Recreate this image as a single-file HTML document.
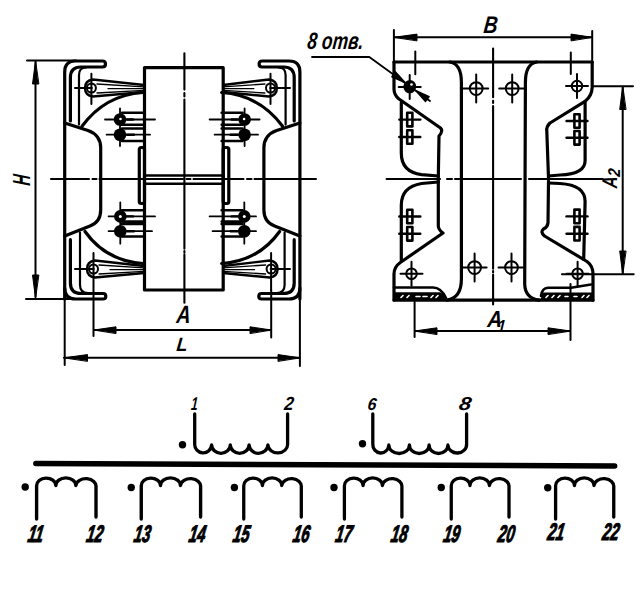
<!DOCTYPE html>
<html><head><meta charset="utf-8">
<style>
html,body{margin:0;padding:0;background:#fff;}
svg{display:block;}
text{font-family:"Liberation Sans",sans-serif;font-style:italic;fill:#000;stroke:none;}
.s text{stroke:#000;stroke-width:0.7;}
.b text,text.b{font-weight:bold;}
</style></head>
<body>
<svg width="640" height="590" viewBox="0 0 640 590">
<rect width="640" height="590" fill="#fff"/>
<g fill="none" stroke="#000" stroke-width="3.2" stroke-linecap="round" stroke-linejoin="round">

<!-- ============ LEFT DRAWING ============ -->
<!-- H dimension -->
<g stroke-width="2">
<path d="M27 60.5 H76 M26 299 H76 M35.5 62 V297"/>
</g>
<path d="M35.5 61 L32.5 84 L38.5 84 Z M35.5 298 L32.5 275 L38.5 275 Z" fill="#000" stroke-width="1"/>
<text class="b" x="0" y="0" font-size="20" transform="translate(30,186) rotate(-90) scale(0.75,1.24) skewX(-8)">H</text>

<!-- center lines -->
<path d="M51 179 H89 M92.5 179 H96.5 M99.5 179 H183 M186.5 179 H190.5 M193.5 179 H243.5 M247 179 H251.5 M254.5 179 H316" stroke-width="2.1"/>
<path d="M184.4 53.3 V89.6 M184.4 93 V96.5 M184.4 99.5 V248.8 M184.4 251 V252.5 M184.4 254.3 V302.7" stroke-width="2.1"/>

<!-- core -->
<rect x="144.5" y="67.7" width="78.7" height="222.3" stroke-width="3.2"/>
<path d="M144.5 175.4 H223.2 M144.5 183.8 H223.2" stroke-width="2.5"/>
<rect x="139.3" y="147.5" width="5.2" height="56" rx="2"/>
<rect x="223.2" y="147.5" width="5.6" height="56" rx="2"/>

<!-- left half (mirrored for right) -->
<g id="lh">
 <!-- bracket top -->
 <path d="M64.7 299 V72 Q64.7 61 75.5 61 H102.5 Q105.5 61 105.5 64 Q105.5 67 102.5 67 H81 Q70.4 67 70.4 77.5 V121"/>
 <path d="M79 124.6 V75 Q79 67.5 86 67.5" stroke-width="2.2"/>
 <!-- bracket bottom -->
 <path d="M64.7 288 Q64.7 299 75.5 299 H103 Q105.8 299 105.8 296.2 Q105.8 293.5 103 293.5 H81 Q70.4 293.5 70.4 283 V239.7"/>
 <path d="M80 232.5 V285 Q80 293 88 293" stroke-width="2.2"/>
 <!-- bobbin profile -->
 <path d="M64.7 123 L88 130.5 Q100.7 135 100.7 148 V210 Q100.7 222 90 226 L64.7 236"/>
 <!-- coil arcs -->
 <path d="M82 126.3 Q105 95 143 92.5"/>
 <path d="M85 231.5 Q106 261 143 263.5"/>
 <!-- lugs top -->
 <g stroke-width="2.4">
  <path d="M122 112.8 H143 M122 124.8 H143 M122 128.5 H143 M122 141 H143 M127 119.5 H133 M127 134.7 H134" />
  <path d="M105 119.5 H155 M106.6 134.7 H150 M120 108.5 V146" stroke-width="1.8"/>
 </g>
 <circle cx="120" cy="119.5" r="6.3" fill="#000" stroke="none"/>
 <circle cx="120.5" cy="119" r="1.3" fill="#fff" stroke="none"/>
 <circle cx="120" cy="134.7" r="6.3" fill="#000" stroke="none"/>
 <!-- lugs bottom -->
 <g stroke-width="2.4">
  <path d="M122 210.2 H143 M122 221.5 H143 M122 224 H143 M122 236.5 H143 M127 216.4 H133 M127 231.2 H134"/>
  <path d="M108.6 216.4 H155 M108.6 231.2 H152 M120.3 202.3 V243.7" stroke-width="1.8"/>
 </g>
 <circle cx="120.3" cy="216.4" r="6.3" fill="#000" stroke="none"/>
 <circle cx="120.3" cy="216.4" r="1.5" fill="#fff" stroke="none"/>
 <circle cx="120.3" cy="231.2" r="6.3" fill="#000" stroke="none"/>
</g>
<use href="#lh" transform="translate(364.6,0) scale(-1,1)"/>
<!-- lead bundles -->
<g stroke-width="2.4">
 <path d="M144 85 L93 79.5 Q85 80.5 85 88 Q85 95.5 93 96.5 L144 92"/>
 <path d="M144 86.8 L97 84 M144 90.3 L97 93 M144 88.6 L108 88.6" stroke-width="1.3"/>
 <circle cx="91.4" cy="88" r="4.5" stroke-width="2"/>
 <path d="M91.4 73.7 V104 M75 88 H92" stroke-width="2"/>

 <path d="M223.2 85 L268.9 79.5 Q276.9 80.5 276.9 88 Q276.9 95.5 268.9 96.5 L223.2 92"/>
 <path d="M223.2 86.8 L264.9 84 M223.2 90.3 L264.9 93 M223.2 88.6 L253.9 88.6" stroke-width="1.3"/>
 <circle cx="270.5" cy="88" r="4.5" stroke-width="2"/>
 <path d="M270.5 73.7 V104 M290 88 H270" stroke-width="2"/>

 <path d="M144 266 L95 260.5 Q87 261.5 87 269 Q87 276.5 95 277.5 L144 273"/>
 <path d="M144 267.8 L99 265 M144 271.3 L99 274 M144 269.6 L110 269.6" stroke-width="1.3"/>
 <circle cx="93.5" cy="269" r="4.5" stroke-width="2"/>
 <path d="M93.5 253 V336 M75 269 H94" stroke-width="2"/>

 <path d="M223.2 266 L269.6 260.5 Q277.6 261.5 277.6 269 Q277.6 276.5 269.6 277.5 L223.2 273"/>
 <path d="M223.2 267.8 L265.6 265 M223.2 271.3 L265.6 274 M223.2 269.6 L254.6 269.6" stroke-width="1.3"/>
 <circle cx="271.1" cy="269" r="4.5" stroke-width="2"/>
 <path d="M271.1 253 V290 M290 269 H270.6" stroke-width="2"/>
</g>

<!-- A, L dimensions -->
<g stroke-width="2">
 <path d="M93.8 330 H271.2 M64 357.8 H300 M299.9 298 V366 M64.7 298 V365 M271.2 290 V337.5"/>
</g>
<path d="M94 330 L116 326.8 L116 333.2 Z M271.2 330 L250 326.8 L250 333.2 Z M64 357.8 L87.5 354.6 L87.5 361 Z M300 357.8 L278 354.6 L278 361 Z" fill="#000" stroke-width="1"/>
<text class="b" x="0" y="0" font-size="20" transform="translate(176.00,322.50) scale(0.981,1.250) skewX(-6)">A</text>
<text class="b" x="0" y="0" font-size="20" transform="translate(176.00,351.00) scale(0.909,0.964) skewX(-6)">L</text>

<!-- ============ RIGHT DRAWING ============ -->
<!-- B dimension -->
<g stroke-width="2">
 <path d="M393.9 30 V62 M592.2 31 V62 M394 37.3 H592.2"/>
</g>
<path d="M394 37.3 L417 34.1 L417 40.5 Z M592.2 37.3 L571 34.1 L571 40.5 Z" fill="#000" stroke-width="1"/>
<text class="b" x="0" y="0" font-size="20" transform="translate(483.10,33.10) scale(0.960,1.204) skewX(-8)">B</text>

<!-- plate outline -->
<path d="M394 62 H592.2 M394 300.2 H593"/>
<!-- left profile -->
<path d="M394 62 V89 Q394 95 399 99 L440.5 128 Q443.5 131 439 136 L438.3 178"/>
<path d="M401.3 102.4 V153 Q401.3 172 421.6 174.6 L438.3 176"/>
<path d="M438.3 180 V226 Q438.5 230 443 233 L400.3 262.5 Q394 267 394 274 V300"/>
<path d="M438.3 182 L421.6 183.5 Q401.3 187 401.3 205 V260.5"/>
<!-- center leg -->
<path d="M450 62 Q461.4 64 461.4 82.5 V278.8 Q461.4 298 447 300.2"/>
<path d="M536.6 62 Q525.4 64 525.4 82.5 L524.7 284 Q525 298 539 300.2"/>
<!-- right profile -->
<path d="M592.2 62 V87 Q592 96 585 101.4 L550 123 Q546 127 546.8 131 L548.5 178"/>
<path d="M585.1 101.4 V160.7 Q585 174 560 175 L548.5 176"/>
<path d="M548.5 181 L548 223 Q547.5 227 543.5 229 Q540 232 544.5 236 L587 261.5 Q593 266 593 274 V300.2"/>
<path d="M548.5 183 L560 183.5 Q585 185 585.1 201.4 L583.7 259.5"/>
<!-- feet -->
<path d="M394 287.5 H433 Q441 287.5 446 298" stroke-width="2.6"/>
<path d="M541 296 Q542 288 548 287.8 H571 L591 284.5" stroke-width="2.6"/>
<path d="M394 292.2 H440 Q444 294 447 300.5 H394 Z" fill="#000" stroke="none"/>
<path d="M543 292.6 H593 V300.5 H540.5 Q541 296 543 292.6 Z" fill="#000" stroke="none"/>
<path d="M401 297.5 L403 295.5 M407 297.5 L409 295.5 M416 296.5 H420 M423 296.5 H427 M431 297.5 L433 295.5 M436 297.5 L438 295.5 M546 297.5 L548 295.5 M552 297.5 L554 295.5 M558 297.5 L560 295.5 M565 296.5 H568 M574 296.5 H577 M582 297.5 L584 295.5 M587 297.5 L589 295.5" stroke="#fff" stroke-width="1.6"/>
<!-- holes -->
<g stroke-width="2">
 <defs><g id="hole"><circle cx="0" cy="0" r="5.3"/><path d="M-11 0 H11 M0 -12 V12"/></g>
 <g id="holeb"><circle cx="0" cy="0" r="6.4"/><path d="M-13 0 H12 M0 -14 V14"/></g></defs>
 <use href="#holeb" x="476.2" y="88.6"/>
 <use href="#holeb" x="512.2" y="88.6"/>
 <use href="#hole" x="577" y="86.1"/>
 <use href="#hole" x="409.7" y="87"/>
 <use href="#hole" x="411.5" y="273.7"/>
 <use href="#holeb" x="474.6" y="267.6"/>
 <use href="#holeb" x="511.5" y="267.6"/>
 <use href="#hole" x="577.6" y="273.7"/>
</g>
<!-- ticks -->
<path d="M415.3 51.4 V74.2 M570.8 52.5 V74" stroke-width="2"/>
<!-- center lines -->
<path d="M493.1 48.6 V97.3 M493.1 100.8 V103 M493.1 106 V268.8 M493.1 271 V272.5 M493.1 274.8 V304.5" stroke-width="2.1"/>
<path d="M386.6 179 H440 M447 179 H452 M455 179 H521 M529 179 H602.5" stroke-width="2.1"/>
<!-- terminal marks -->
<g stroke-width="1.6">
 <defs><g id="tm"><rect x="-2.6" y="-6.8" width="5.2" height="13.6" stroke-width="2.6"/><path d="M-10.5 0 H10.5" stroke-width="2.4"/></g></defs>
 <use href="#tm" x="409.8" y="119.6"/>
 <use href="#tm" x="409.8" y="137"/>
 <use href="#tm" x="409.8" y="216.5"/>
 <use href="#tm" x="409.8" y="233.8"/>
 <use href="#tm" x="577" y="121"/>
 <use href="#tm" x="577" y="137.8"/>
 <use href="#tm" x="577" y="216.4"/>
 <use href="#tm" x="577" y="233.7"/>
</g>
<!-- leader 8 otv -->
<path d="M312 57 H369.3 L430 101" stroke-width="1.8"/>
<circle cx="410" cy="86" r="6" fill="#000" stroke="none"/>
<circle cx="411.5" cy="84.5" r="1.3" fill="#fff" stroke="none"/>
<path d="M405 82.5 L391.9 76.7 L395.5 71.9 Z M416 90.8 L425.5 101.4 L429.1 96.6 Z" fill="#000" stroke-width="1.5"/>
<text class="b" x="0" y="0" font-size="20" transform="translate(306.73,48.60) scale(0.871,1.186) skewX(-8)">8 отв.</text>

<!-- A2 dimension -->
<g stroke-width="2">
 <path d="M592 86.3 H633 M562 274.3 H633.7 M622.7 86.3 V274.3"/>
</g>
<path d="M622.7 86.3 L619.7 109.5 L625.7 109.5 Z M622.7 274.3 L619.7 251 L625.7 251 Z" fill="#000" stroke-width="1"/>
<text class="b" x="0" y="0" font-size="20" transform="translate(617,188.6) rotate(-90) scale(0.815,1.07) skewX(-6)">A</text>
<text class="b" x="0" y="0" font-size="20" transform="translate(620,177) rotate(-90) scale(0.72,0.857) skewX(-6)">2</text>

<!-- A1 dimension -->
<g stroke-width="2">
 <path d="M414.6 300 V337 M570.5 284 V340 M414.6 331 H570.5"/>
</g>
<path d="M414.6 331 L437 327.8 L437 334.2 Z M570.5 331 L548 327.8 L548 334.2 Z" fill="#000" stroke-width="1"/>
<text class="b" x="0" y="0" font-size="20" transform="translate(487.10,326.60) scale(1.015,1.164) skewX(-6)">A</text>
<text class="b" x="0" y="0" font-size="20" transform="translate(497.30,331.70) scale(0.710,0.871) skewX(-6)">1</text>

<!-- ============ SCHEMATIC ============ -->
<path d="M35.8 463.5 L614.7 466" stroke-width="5.4"/>
<g stroke-width="3.3">
 <!-- primary 1-2 -->
 <path d="M194.7 414 V444 A8.45 8.5 0 0 0 211.6 444.8 A9.35 8.5 0 0 0 230.3 444.8 A9.4 8.5 0 0 0 249.1 444.8 A9.4 8.5 0 0 0 267.9 444.8 A9.85 8.5 0 0 0 287.6 444 V414"/>
 <!-- primary 6-8 -->
 <path d="M372.8 414 V444 A8 8.5 0 0 0 388.8 445 A10.3 8.5 0 0 0 409.4 445 A9.85 8.5 0 0 0 429.1 445 A9.4 8.5 0 0 0 447.9 445 A9.35 8.5 0 0 0 466.6 444 V414"/>
</g>
<circle cx="182.5" cy="444.7" r="3.7" fill="#000" stroke="none"/>
<circle cx="362.5" cy="443.8" r="3.7" fill="#000" stroke="none"/>
<g stroke-width="3">
 <defs><g id="sec"><path d="M0 39 V6 A9.6 7.6 0 0 1 19.3 5.5 A10 7.6 0 0 1 39.3 5.5 A10.1 7.6 0 0 1 59.5 7 V37"/></g></defs>
</g>
<g stroke-width="3.4">
 <use href="#sec" transform="translate(36.6,480) scale(0.9983,1)"/>
 <use href="#sec" transform="translate(141.25,480) scale(0.9975,1)"/>
 <use href="#sec" transform="translate(243.75,480) scale(0.9672,1)"/>
 <use href="#sec" transform="translate(344.4,480) scale(0.9664,1)"/>
 <use href="#sec" transform="translate(451.25,480) scale(0.9706,1)"/>
 <use href="#sec" transform="translate(555.6,480) scale(0.9773,1)"/>
</g>
<g fill="#000" stroke="none">
 <circle cx="25.2" cy="487" r="3.7"/>
 <circle cx="131.25" cy="487.5" r="3.7"/>
 <circle cx="234.4" cy="487.5" r="3.7"/>
 <circle cx="334" cy="487.5" r="3.7"/>
 <circle cx="441.25" cy="487.5" r="3.7"/>
 <circle cx="547.75" cy="487.8" r="3.7"/>
</g>
</g>
<g>
 <text class="b" x="0" y="0" font-size="20" transform="translate(190.80,409.70) scale(0.591,0.936) skewX(-8)">1</text>
 <text class="b" x="0" y="0" font-size="20" transform="translate(283.80,410.00) scale(0.838,0.957) skewX(-8)">2</text>
 <text class="b" x="0" y="0" font-size="20" transform="translate(367.02,409.70) scale(0.791,0.857) skewX(-8)">6</text>
 <text class="b" x="0" y="0" font-size="20" transform="translate(458.31,410.00) scale(1.092,0.929) skewX(-8)">8</text>
</g>
<g font-size="15.5" class="b s">
 <text x="0" y="0" transform="translate(27,541.5) skewX(-10) scale(0.95,1.55)">11</text>
 <text x="0" y="0" transform="translate(85.5,541.5) skewX(-10) scale(0.95,1.55)">12</text>
 <text x="0" y="0" transform="translate(133,541.5) skewX(-10) scale(0.95,1.55)">13</text>
 <text x="0" y="0" transform="translate(188,541.5) skewX(-10) scale(0.95,1.55)">14</text>
 <text x="0" y="0" transform="translate(232,541.5) skewX(-10) scale(0.95,1.55)">15</text>
 <text x="0" y="0" transform="translate(292,541.5) skewX(-10) scale(0.95,1.55)">16</text>
 <text x="0" y="0" transform="translate(334.6,541.5) skewX(-10) scale(0.95,1.55)">17</text>
 <text x="0" y="0" transform="translate(390,541.5) skewX(-10) scale(0.95,1.55)">18</text>
 <text x="0" y="0" transform="translate(442.4,541.5) skewX(-10) scale(0.95,1.55)">19</text>
 <text x="0" y="0" transform="translate(497,541.5) skewX(-10) scale(0.95,1.55)">20</text>
 <text x="0" y="0" transform="translate(546.7,540) skewX(-10) scale(0.95,1.55)">21</text>
 <text x="0" y="0" transform="translate(601.5,540) skewX(-10) scale(0.95,1.55)">22</text>
</g>
</svg>
</body></html>
